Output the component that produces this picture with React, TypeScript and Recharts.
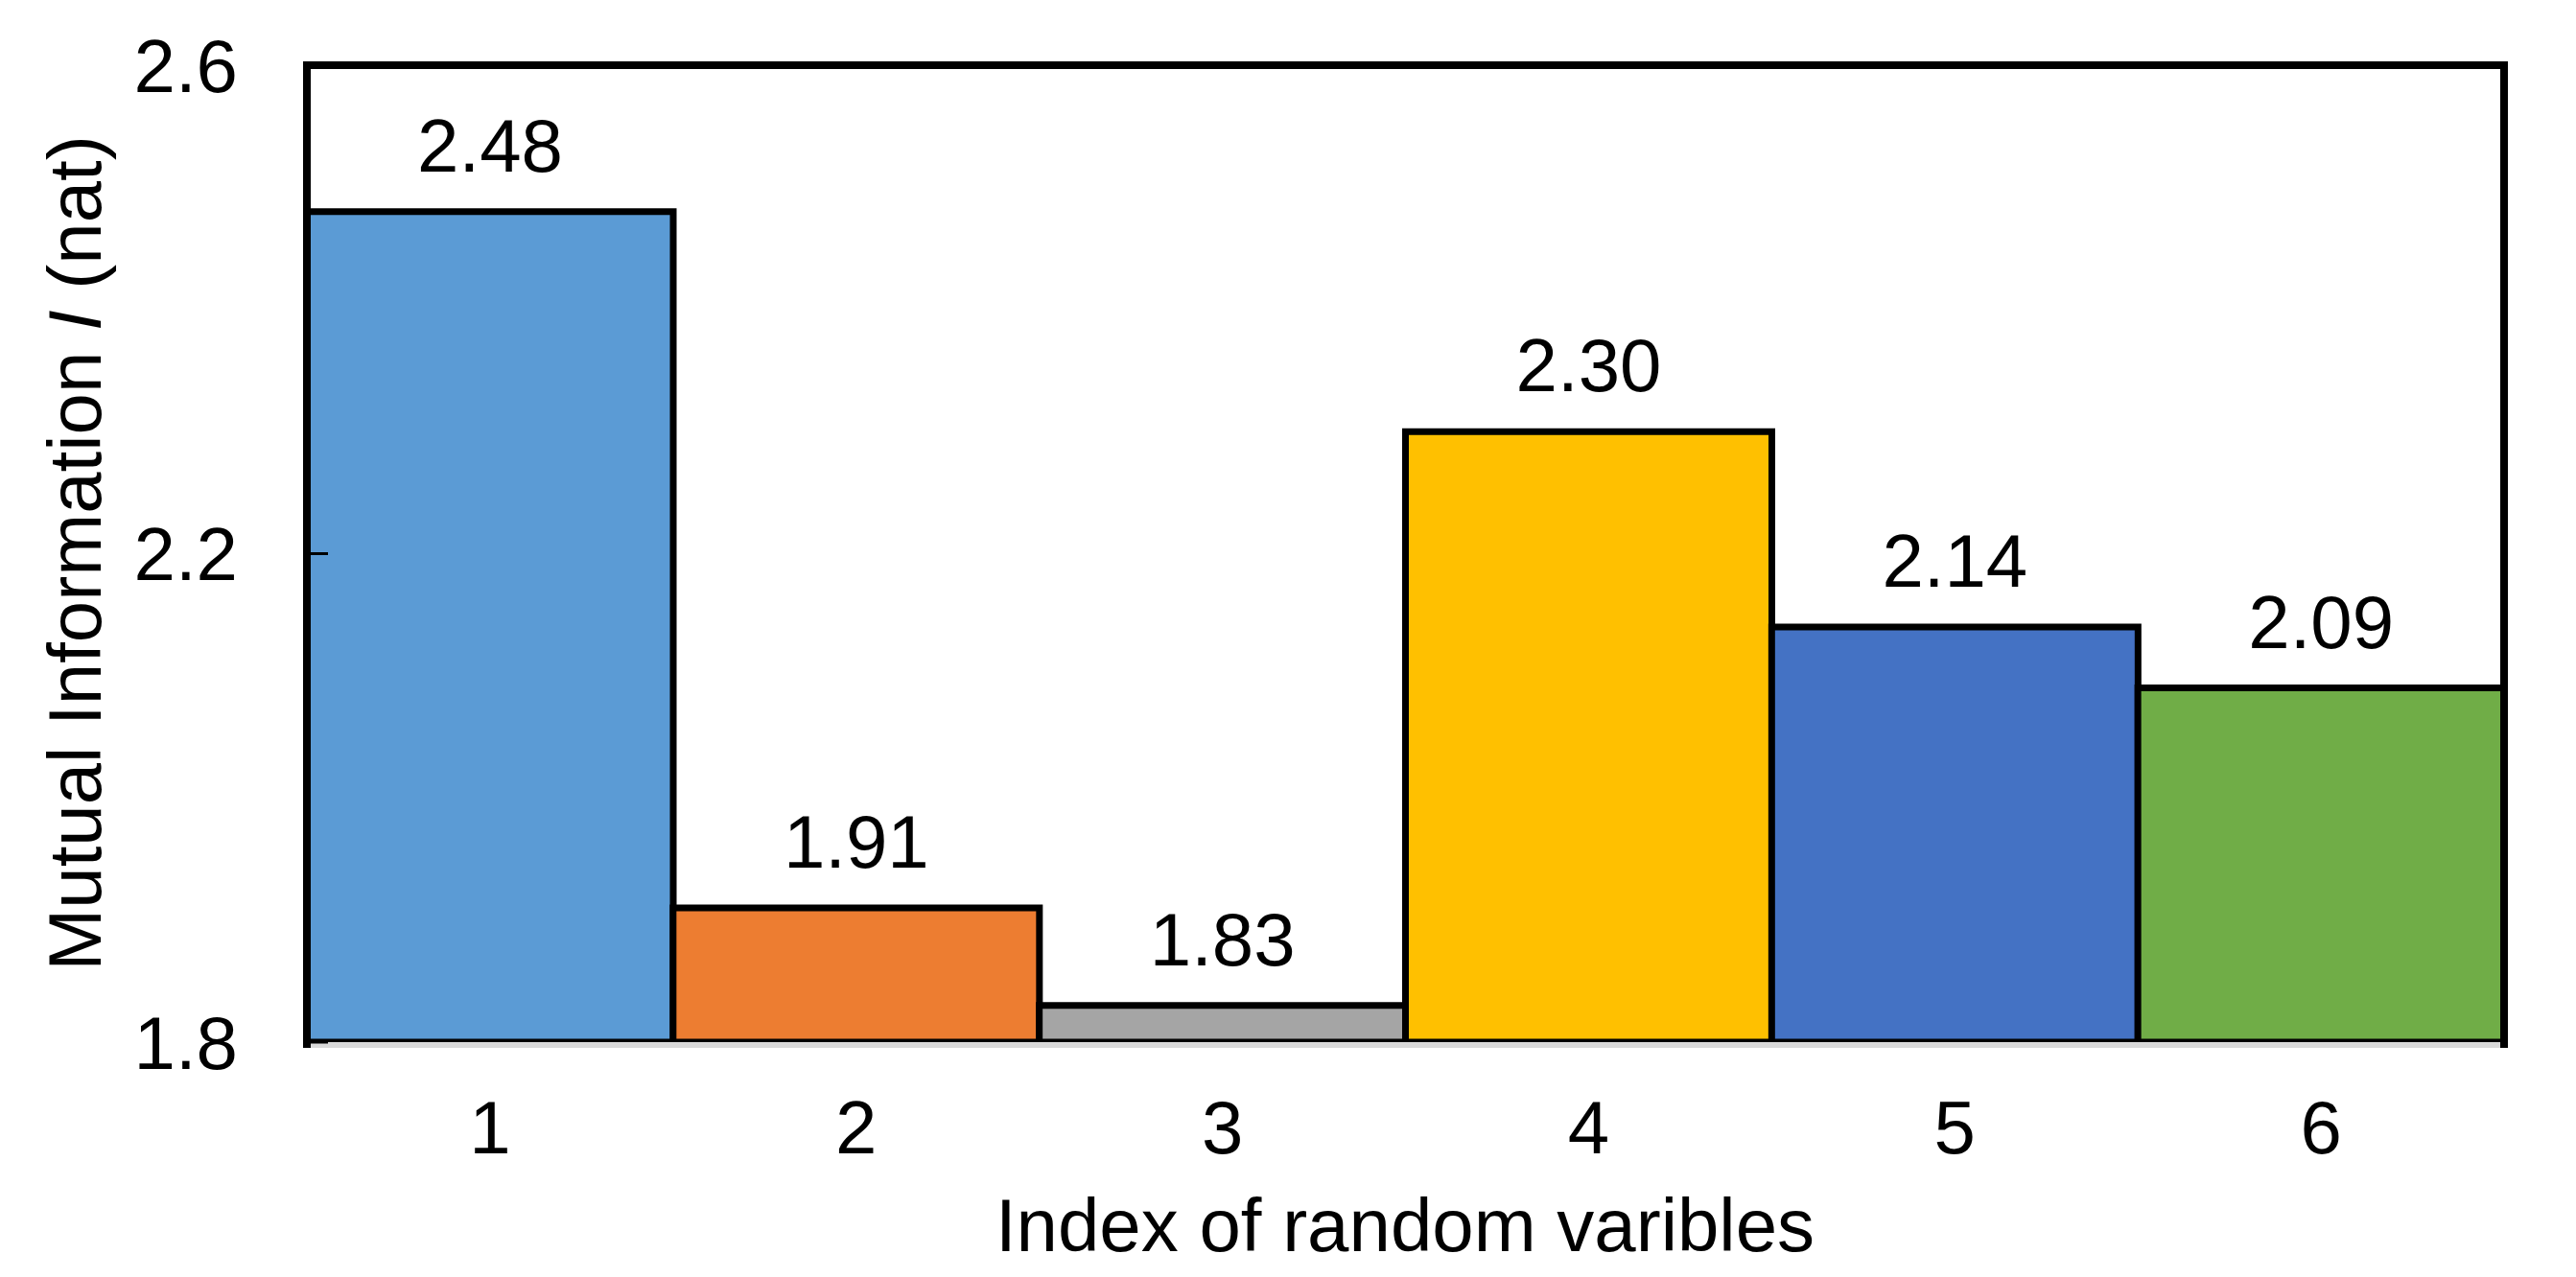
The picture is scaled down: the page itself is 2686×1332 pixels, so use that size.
import React from 'react';
import { BarChart, Bar, XAxis, YAxis, Cell, LabelList, Label, ReferenceArea } from 'recharts';

// Mutual information per random variable
const indices = ['1', '2', '3', '4', '5', '6'];
const mutualInfo = [2.48, 1.91, 1.83, 2.30, 2.14, 2.09];
const barColors = ['#5B9BD5', '#ED7D31', '#A5A5A5', '#FFC000', '#4472C4', '#70AD47'];
const yTicks = [1.8, 2.2, 2.6];

const FONT = '"Liberation Sans", Arial, sans-serif';
const FS = 78;

const data = indices.map((name, i) => ({ name, value: mutualInfo[i] }));

// y-axis title, rotated, with italic I
function YTitle() {
    const cx = 69;
    const cy = 569;
    return (
        <text
            x={cx}
            y={cy}
            dy="0.355em"
            textAnchor="middle"
            transform={`rotate(-90, ${cx}, ${cy})`}
            fontFamily={FONT}
            fontSize={FS}
            fill="#000"
        >
            <tspan>Mutual Information </tspan>
            <tspan fontStyle="italic">I</tspan>
            <tspan> (nat)</tspan>
        </text>
    );
}

function XTitle() {
    return (
        <text x={1457} y={1269} dy="0.355em" textAnchor="middle" fontFamily={FONT} fontSize={FS} fill="#000">
            Index of random varibles
        </text>
    );
}

// plot frame: left, top and right sides (bottom is the grey axis)
function FrameShape(props: any) {
    const { x, y, width, height } = props;
    const b = y + height + 6;
    return (
        <path
            d={`M${x},${b} L${x},${y} L${x + width},${y} L${x + width},${b}`}
            fill="none"
            stroke="#000"
            strokeWidth={8}
        />
    );
}

export default function App() {
    return (
        <div style={{ width: 2670, height: 1316, background: '#fff' }}>
            <BarChart
                width={2670}
                height={1316}
                data={data}
                margin={{ top: 60, right: 67, left: 0, bottom: 0 }}
                barCategoryGap={0}
                barGap={0}
            >
                <XAxis
                    dataKey="name"
                    height={237}
                    tickLine={false}
                    tickSize={0}
                    tickMargin={61}
                    axisLine={{ stroke: '#d9d9d9', strokeWidth: 12 }}
                    tick={{ fill: '#000', fontSize: FS, fontFamily: FONT }}
                    zIndex={100}
                >
                    <Label content={() => <XTitle />} />
                </XAxis>
                <Bar dataKey="value" stroke="#000" strokeWidth={7} isAnimationActive={false}>
                    {data.map((_, i) => (
                        <Cell key={`cell-${i}`} fill={barColors[i]} />
                    ))}
                    <LabelList
                        dataKey="value"
                        position="top"
                        offset={42}
                        formatter={(v: any) => Number(v).toFixed(2)}
                        fill="#000"
                        fontSize={FS}
                        fontFamily={FONT}
                    />
                </Bar>
                <YAxis
                    type="number"
                    domain={[1.8, 2.6]}
                    ticks={yTicks}
                    width={312}
                    tickSize={-22}
                    tickMargin={94}
                    tickFormatter={(v) => Number(v).toFixed(1)}
                    tickLine={{ stroke: '#000', strokeWidth: 3 }}
                    axisLine={{ stroke: '#000', strokeWidth: 8 }}
                    tick={{ fill: '#000', fontSize: FS, fontFamily: FONT }}
                    allowDataOverflow
                    zIndex={600}
                >
                    <Label content={() => <YTitle />} />
                </YAxis>
                <ReferenceArea
                    x1="1"
                    x2="6"
                    y1={1.8}
                    y2={2.6}
                    shape={FrameShape}
                    ifOverflow="visible"
                    zIndex={700}
                />
            </BarChart>
        </div>
    );
}
